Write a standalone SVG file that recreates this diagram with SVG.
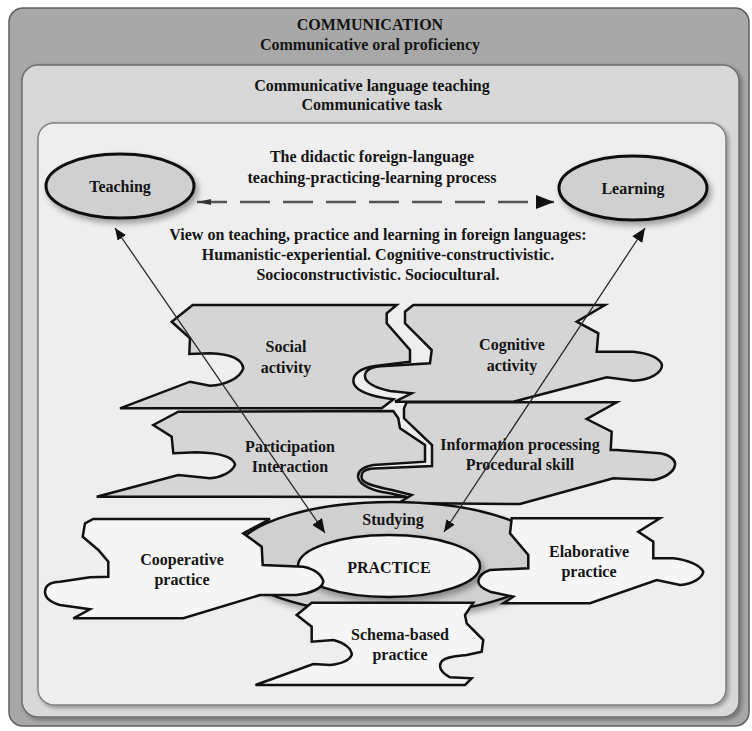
<svg xmlns="http://www.w3.org/2000/svg" width="752" height="731" viewBox="0 0 752 731">
  <defs>
    <style>
      .t { font-family: "Liberation Serif", "Times New Roman", serif; font-weight: bold; font-size: 16px; fill: #141414; text-anchor: middle; }
      .pg { fill: #d5d5d5; stroke: #111; stroke-width: 2.5; stroke-linejoin: miter; }
      .pl { fill: #f5f5f5; stroke: #111; stroke-width: 2.5; stroke-linejoin: miter; }
      .ov { fill: #d0d0d0; stroke: #111; stroke-width: 3; }
      .ln { fill: none; stroke: #2a2a2a; stroke-width: 1.3; }
      .dash { fill: none; stroke: #555; stroke-width: 2.5; stroke-dasharray: 30 13; }
    </style>
    <filter id="sh" x="-20%" y="-30%" width="150%" height="170%">
      <feGaussianBlur in="SourceAlpha" stdDeviation="3"/>
      <feOffset dx="3" dy="4" result="o"/>
      <feComponentTransfer><feFuncA type="linear" slope="0.35"/></feComponentTransfer>
      <feMerge><feMergeNode/><feMergeNode in="SourceGraphic"/></feMerge>
    </filter>
    <filter id="bsh" x="-5%" y="-5%" width="110%" height="110%">
      <feGaussianBlur in="SourceAlpha" stdDeviation="2"/>
      <feOffset dx="2" dy="2"/>
      <feComponentTransfer><feFuncA type="linear" slope="0.35"/></feComponentTransfer>
      <feMerge><feMergeNode/><feMergeNode in="SourceGraphic"/></feMerge>
    </filter>
    <marker id="ahBig" markerUnits="userSpaceOnUse" markerWidth="14" markerHeight="12" refX="14" refY="6" orient="auto-start-reverse">
      <path d="M0,0 L14,6 L0,12 Z" fill="#111"/>
    </marker>
    <marker id="ahSmall" markerUnits="userSpaceOnUse" markerWidth="12" markerHeight="10" refX="12" refY="5" orient="auto-start-reverse">
      <path d="M0,0 L12,5 L0,10 Z" fill="#111"/>
    </marker>
    <marker id="dashEnd" markerUnits="userSpaceOnUse" markerWidth="18" markerHeight="14" refX="18" refY="7" orient="auto">
      <path d="M0,0 L18,7 L0,14 Z" fill="#111"/>
    </marker>
    <marker id="dashStart" markerUnits="userSpaceOnUse" markerWidth="14" markerHeight="6" refX="14" refY="3" orient="auto-start-reverse">
      <path d="M0,0 L14,3 L0,6 Z" fill="#333"/>
    </marker>
  </defs>

  <!-- nested frames -->
  <g id="frame-communication">
    <rect x="9" y="8" width="740" height="718" rx="14" fill="#a8a8a8" stroke="#5e5e5e" stroke-width="1.5"/>
    <text class="t" x="370" y="30">COMMUNICATION</text>
    <text class="t" x="370" y="50">Communicative oral proficiency</text>
  </g>
  <g id="frame-clt">
    <rect x="22" y="65" width="717" height="652" rx="16" fill="#d8d8d8" stroke="#6e6e6e" stroke-width="1.5" filter="url(#bsh)"/>
    <text class="t" x="372" y="91">Communicative language teaching</text>
    <text class="t" x="372" y="110">Communicative task</text>
  </g>
  <g id="frame-process">
    <rect x="38" y="123" width="688" height="582" rx="16" fill="#eeeeee" stroke="#808080" stroke-width="1.5" filter="url(#bsh)"/>
    <text class="t" x="372" y="162">The didactic foreign-language</text>
    <text class="t" x="372" y="183">teaching-practicing-learning process</text>
    <text class="t" x="378" y="240">View on teaching, practice and learning in foreign languages:</text>
    <text class="t" x="378" y="260">Humanistic-experiential. Cognitive-constructivistic.</text>
    <text class="t" x="378" y="280">Socioconstructivistic. Sociocultural.</text>
  </g>

  <g id="teaching">
    <ellipse class="ov" cx="120" cy="186" rx="74" ry="32" filter="url(#sh)"/>
    <text class="t" x="120" y="192">Teaching</text>
  </g>
  <g id="learning">
    <ellipse class="ov" cx="633" cy="188" rx="74" ry="32" filter="url(#sh)"/>
    <text class="t" x="633" y="194">Learning</text>
  </g>

  <!-- upper row: social / cognitive activity -->
  <g id="social-activity">
    <path class="pg" d="M192.7,305 L396.7,305 L386.7,313.3 L386.7,323.3 L410,350 L410,361.7 L375,366 C360,368 351,375 354,384 C358,393 375,397 393.3,399.3 L381.7,408.3 L120,408.3 L190,381.7 L210,385.7 C226,385 240,378 243.3,368.3 C242,359 230,354 210,353.3 L189.3,354 L190,338.3 L171.7,321.7 Z"/>
    <text class="t" x="286" y="352">Social</text>
    <text class="t" x="286" y="373">activity</text>
  </g>
  <g id="cognitive-activity">
    <path class="pg" d="M413.3,305 L605,305 L576.7,321.7 L598.3,333.3 L596.7,351.7 L633.3,351.7 C648,353 660,358 662,365 C662,373 650,380 633.3,380.7 L606.7,377.3 L513.3,401.7 L395,401.7 L411.7,393.3 L390,391 C375,388 364,382 365,375 C366,369 372,366.7 385,366 L430,363.3 L431.7,350 L405,323.3 L405,311.7 Z"/>
    <text class="t" x="512" y="350">Cognitive</text>
    <text class="t" x="512" y="371">activity</text>
  </g>

  <!-- middle row: participation / information processing -->
  <g id="participation">
    <path class="pg" d="M178.3,411.7 L393.3,411 L398.3,418.3 L400,428.3 L425,445 L425,461.7 L373.3,465 C362,467 357,472 358.3,478 C360,485 372,491 390,493.3 L407,497 L96.7,496.7 L178.3,475 L210,478.3 C222,477 232,472 235,465 C234,458 222,453 196.7,452.3 L173.3,453.3 L171.7,436.7 L153.3,425 Z"/>
    <text class="t" x="290" y="452">Participation</text>
    <text class="t" x="290" y="472">Interaction</text>
  </g>
  <g id="information-processing">
    <path class="pg" d="M406.7,402.3 L616.7,402.3 L586.7,419 L611.7,431.7 L610.7,450 L616.7,450 L660,453.3 C670,455 676,460 675,465 C674,472 665,478 653.3,480 L613.3,478.3 L520,504 L398.6,503 L411.7,495 L392,490 C377,487 364,484 362,479 C360,473 364,469 374,468.5 L432,466 L432,445 L404,418.3 L404,408.3 Z"/>
    <text class="t" x="520" y="450">Information processing</text>
    <text class="t" x="520" y="470">Procedural skill</text>
  </g>

  <!-- practice hub -->
  <g id="studying">
    <ellipse cx="392" cy="558" rx="160" ry="56" fill="#d0d0d0" stroke="#111" stroke-width="2.5" filter="url(#sh)"/>
    <text class="t" x="393" y="525">Studying</text>
  </g>
  <g id="practice">
    <ellipse cx="389" cy="566" rx="91" ry="31" fill="#f3f3f3" stroke="#111" stroke-width="2.5" filter="url(#sh)"/>
    <text class="t" x="389" y="573">PRACTICE</text>
  </g>

  <!-- lower row: practice types -->
  <g id="cooperative-practice">
    <path class="pl" d="M93.3,519 L270,519 L243.3,533.3 L261.7,546.7 L262.7,565 L303.3,566.7 C315,569 322,575 323.3,581.7 C322,588 312,593 296.7,595 L260,595 L183.3,618.3 L73.3,618.3 L90,609.3 L60,605 C50,602 45,598 45,592 C45,586 50,582 60,581.7 L90,577.3 L108.3,576.7 L108.3,561.7 L98.3,550 L82.7,536.7 L85,523.3 Z"/>
    <text class="t" x="182" y="565">Cooperative</text>
    <text class="t" x="182" y="585">practice</text>
  </g>
  <g id="elaborative-practice">
    <path class="pl" d="M511.7,518.3 L660,518.3 L638.3,531.7 L653.3,541.7 L653.3,558.3 L673.3,558.3 C688,560 700,565 703.3,571.7 C702,578 693,584 680,585 L656.7,580 L590,603.3 L503.3,603.3 L513.3,596.7 L490,591.7 C483,589 478,586 478.3,581 C479,576 484,572 490,570 L528.3,568.3 L528.3,555 L510,533.3 Z"/>
    <text class="t" x="589" y="557">Elaborative</text>
    <text class="t" x="589" y="577">practice</text>
  </g>
  <g id="schema-based-practice">
    <path class="pl" d="M311.7,602.7 L473.3,602.7 L465,615 L466.7,623.3 L483.3,640 L481.7,651.7 L466.7,655 C455,656 446,657 442,661 C438,666 440,672 450,677.3 L471.7,678.3 L465,685 L255.5,685 L313.3,664 L330,665 C340,664 349,661 351.7,655 C352,649 345,643 333.3,640 L311.7,641.7 L311.7,626.7 L296.7,615 Z"/>
    <text class="t" x="400" y="640">Schema-based</text>
    <text class="t" x="400" y="660">practice</text>
  </g>

  <!-- connectors -->
  <g id="connectors">
    <line class="dash" x1="197" y1="202" x2="554" y2="202" marker-start="url(#dashStart)" marker-end="url(#dashEnd)"/>
    <line class="ln" x1="115" y1="228" x2="325" y2="533" marker-start="url(#ahSmall)" marker-end="url(#ahBig)"/>
    <line class="ln" x1="645" y1="228" x2="444" y2="532" marker-start="url(#ahBig)" marker-end="url(#ahSmall)"/>
  </g>
</svg>
